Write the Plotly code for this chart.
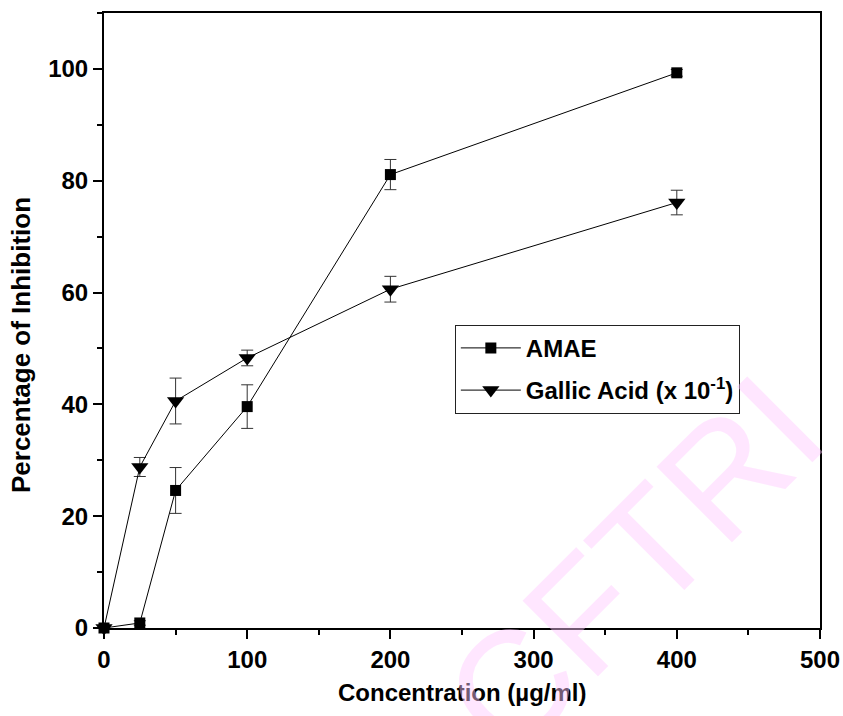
import plotly.graph_objects as go

# Concentration levels (µg/ml)
concentration = [0, 25, 50, 100, 200, 400]

# Percentage of inhibition, mean and standard deviation
amae_mean = [0, 0.9, 24.6, 39.6, 81.1, 99.3]
amae_sd = [0, 0.4, 4.1, 3.9, 2.7, 0.6]

gallic_mean = [0, 28.8, 40.6, 48.3, 60.6, 76.1]
gallic_sd = [0, 1.7, 4.1, 1.4, 2.3, 2.2]

x_ticks = [0, 100, 200, 300, 400, 500]
y_ticks = [0, 20, 40, 60, 80, 100]

FONT = "Liberation Sans, Arial, sans-serif"

fig = go.Figure()

fig.add_trace(go.Scatter(
    x=concentration, y=amae_mean, name="AMAE",
    mode="lines+markers",
    line=dict(color="black", width=1),
    marker=dict(symbol="square", size=11, color="black"),
    error_y=dict(type="data", array=amae_sd, visible=True,
                 color="#333333", thickness=1, width=6),
    cliponaxis=False, legendgroup="a",
))

fig.add_trace(go.Scatter(
    x=concentration, y=gallic_mean, name="Gallic Acid (x 10<sup>-1</sup>)",
    mode="lines+markers",
    line=dict(color="black", width=1),
    marker=dict(symbol="triangle-down", size=15, color="black"),
    error_y=dict(type="data", array=gallic_sd, visible=True,
                 color="#333333", thickness=1, width=6),
    cliponaxis=False, legendgroup="b",
))

axis_common = dict(
    showline=True, linecolor="black", linewidth=2, mirror=True,
    ticks="outside", ticklen=9, tickwidth=2, tickcolor="black",
    showgrid=False, zeroline=False, automargin=False,
    tickfont=dict(family=FONT, size=24, color="black", weight="bold"),
)

fig.update_xaxes(
    range=[0, 500], tickvals=x_ticks,
    minor=dict(dtick=50, ticks="outside", ticklen=5, tickwidth=2, tickcolor="black"),
    **axis_common,
)
fig.update_yaxes(
    range=[0, 110], tickvals=y_ticks,
    minor=dict(dtick=10, ticks="outside", ticklen=5, tickwidth=2, tickcolor="black"),
    **axis_common,
)

fig.update_layout(
    width=843, height=716,
    margin=dict(l=104, r=23, t=13, b=88),
    paper_bgcolor="white", plot_bgcolor="white",
    showlegend=True,
    legend=dict(
        x=0.49, y=0.493, xanchor="left", yanchor="top",
        bordercolor="#222222", borderwidth=1, bgcolor="white",
        font=dict(family=FONT, size=24, color="black", weight="bold"),
        tracegroupgap=8, itemwidth=60,
    ),
    annotations=[
        dict(text="Concentration (µg/ml)", xref="paper", yref="paper",
             x=0.5, y=-0.105, xanchor="center", yanchor="middle", showarrow=False,
             font=dict(family=FONT, size=24, color="black", weight="bold")),
        dict(text="Percentage of Inhibition", xref="paper", yref="paper",
             x=-0.116, y=0.46, xanchor="center", yanchor="middle", showarrow=False,
             textangle=-90,
             font=dict(family=FONT, size=26, color="black", weight="bold")),
        dict(text="CFTRI", xref="paper", yref="paper",
             x=(633 - 104) / 716, y=(628 - 565) / 615,
             xanchor="center", yanchor="middle", showarrow=False,
             textangle=-45,
             font=dict(family=FONT, size=155, color="rgba(255,200,255,0.45)")),
    ],
)

fig.write_html("out.html")
